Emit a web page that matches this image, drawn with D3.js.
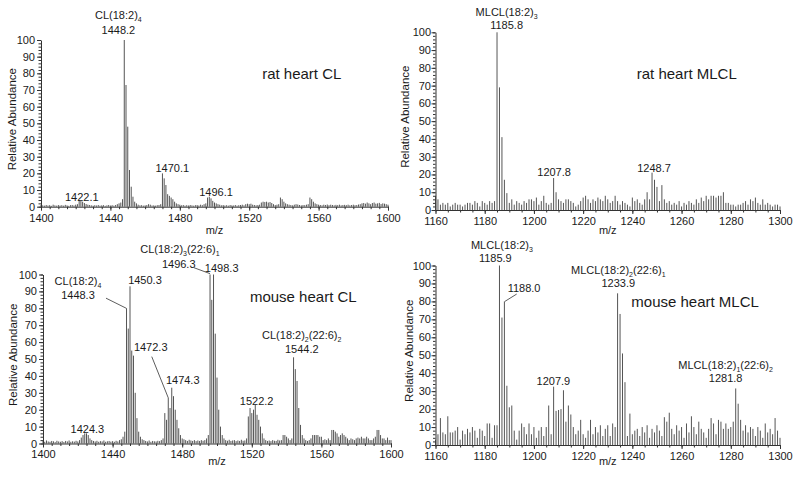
<!DOCTYPE html>
<html><head><meta charset="utf-8">
<script src="https://cdn.jsdelivr.net/npm/d3@7"></script>
<style>
body{margin:0;background:#fff;}
svg{display:block;font-family:"Liberation Sans",Arial,sans-serif;}
</style></head><body>
<svg id="c" width="800" height="478"></svg>
<script>
// ---------- data ----------
const clMz = d3.range(1400, 1601);      // m/z bins, CL panels
const mlclMz = d3.range(1160, 1301);    // m/z bins, MLCL panels
const clTicks = [1400, 1440, 1480, 1520, 1560, 1600];
const mlclTicks = [1160, 1180, 1200, 1220, 1240, 1260, 1280, 1300];
const yTicks = [0, 10, 20, 30, 40, 50, 60, 70, 80, 90, 100];

const ratCL = [
 1.0,0.8,0.6,1.0,0.7,0.9,0.5,1.2,0.8,0.6,
 1.0,0.7,0.9,0.6,1.1,0.8,0.5,0.9,1.0,0.7,
 1.2,1.5,4.0,3.5,3.0,2.2,1.6,1.2,1.0,0.8,
 0.6,0.9,0.7,1.0,0.6,0.8,0.9,0.5,0.8,1.0,
 0.7,0.9,0.6,1.0,1.5,2.0,2.5,4.5,100,73,
 48,22,12,6,3,2,1.2,0.8,0.9,0.6,
 0.8,1.0,1.5,1.2,0.7,0.8,0.6,0.9,1.0,1.5,
 20,17,13,7.5,6.5,5.5,4.5,3,2,1.5,
 1.2,0.8,1.0,0.6,0.9,0.7,1.0,0.8,0.6,0.9,
 1.0,0.7,1.2,0.9,1.5,2.0,5.5,6.0,5.0,3.5,
 2.5,2.0,1.5,1.2,0.8,1.0,0.7,0.9,0.6,1.0,
 0.8,0.7,1.0,0.6,0.9,1.0,1.2,0.8,1.5,1.8,
 1.5,1.8,1.2,1.0,0.8,1.0,1.2,2.5,3.0,2.8,
 3.0,2.5,2.8,2.2,1.5,1.0,1.2,1.5,5.5,4.5,
 3.0,2.0,1.5,1.2,1.0,0.8,1.2,1.5,1.3,1.0,
 0.8,1.0,0.9,1.2,1.5,5.5,4.5,3.0,2.0,1.5,
 1.2,1.0,0.8,1.2,1.0,1.3,0.9,1.2,1.0,0.8,
 1.1,0.9,1.2,0.8,1.0,1.1,0.9,1.2,0.8,1.0,
 1.2,0.9,1.0,1.3,1.5,2.0,2.2,1.8,2.5,2.0,
 1.5,2.2,2.5,1.8,2.0,2.3,1.6,2.0,1.8,1.5,
 1.2];

const mouseCL = [
 1.5,1.0,1.8,1.2,1.0,1.5,1.3,0.8,1.6,1.2,
 1.0,1.4,0.9,1.5,1.2,1.8,1.0,1.3,1.1,1.6,
 1.2,2.0,3.5,5.0,6.0,6.0,5.0,3.0,2.0,1.5,
 1.2,1.6,1.0,1.4,1.2,1.8,1.0,1.3,1.5,1.1,
 1.4,1.0,1.6,1.2,2.0,2.5,4.0,7.0,80,68,
 93,55,52,30,15,7,4,2.5,2.0,1.5,
 1.2,1.8,1.0,1.5,1.3,1.2,1.6,1.4,2.0,3.0,
 18,14,27,21,33,28,20,14,9,5,
 3.0,2.5,2.0,1.5,2.2,1.8,1.5,2.0,1.4,1.8,
 1.5,2.0,1.6,2.0,3.0,5.0,100,85,100,65,
 39,20,10,5,3,2,1.6,2.2,1.5,1.8,
 2.0,1.4,1.8,1.5,2.2,1.6,1.8,3.0,16,21,
 18,20,23,17,14,10,6,3,2,1.5,
 1.8,1.4,2.0,1.6,1.5,2.2,1.8,2.0,5.0,5.0,
 4.0,3.0,2.0,3.0,51,44,37,21,11,5,
 3.0,2.0,1.5,2.0,3.0,5.0,5.0,5.0,5.0,4.0,
 4.0,2.0,2.5,2.0,3.0,2.0,8.0,8.0,7.0,6.0,
 4.0,5.0,6.0,5.0,4.0,3.0,2.0,3.0,2.5,2.0,
 3.0,3.5,3.0,4.0,3.0,3.0,4.0,3.0,2.0,2.0,
 3.0,4.0,8.0,8.0,5.0,3.0,3.0,2.0,3.5,2.0,
 2.0];

const ratMLCL = [
 8,6,3,4,3,4,2,3,4,3,
 3,2,3,4,4,3,5,4,2,5,
 4,3,5,4,5,100,69,41,17,9.5,
 4,6,3,5,4,3,5,4,6,6,
 5,7,3,5,8,4,3,4,18,10,
 6,5,4,6,6,5,4,2,3,5,
 7,8,6,4,6,5,7,6,5,8,
 6,4,5,8,5,3,5,4,3,2,
 7,5,6,4,3,6,10,6,21,17,
 13,5,14,6,4,5,3,4,3,5,
 2,4,3,5,4,3,6,4,7,5,
 8,6,8,8,7,8,8,10,4,4,
 3,3,2,3,3,4,5,3,6,5,
 7,4,3,6,3,4,3,2,3,3,
 2];

const mouseMLCL = [
 3,6,15,7,6,16,7,7,8,10,
 3,8,6,9,7,10,8,4,9,8,
 5,12,12,4,11,11,100,71,80,33,
 21,22,8,3,8,12,10,6,12,6,
 10,4,8,10,5,10,22,6,32.5,19,
 19.5,20,30.5,13,22,17,10,6,8,14,
 6,4,8,14,6,10,7,11,5,9,
 11,5,12,10,84.5,73,51,35,5,17.5,
 6,8,9,5,10,7,11,4,9,7,
 11,8,5,15.5,13,18,9,6,11,8,
 10,4,12,7,16,10,6,13,9,7,
 4,9,15,12,6,14,13,9,12,9,
 10,13,31.5,23,14,8,11,7,10,9,
 5,10,8,4,12,7,9,6,15,8,
 4];

// annotations: text centre in data units (m/z, relative abundance); "_n" = subscript
const ratCLNotes = [
  {mz: 1444.6, v: 115, lines: ["CL(18:2)_4", "1448.2"], gap: 15},
  {mz: 1475.7, v: 23, lines: ["1470.1"]},
  {mz: 1500.9, v: 8.8, lines: ["1496.1"]},
  {mz: 1423.5, v: 6, lines: ["1422.1"]}
];
const ratMLCLNotes = [
  {mz: 1188.9, v: 111.6, lines: ["MLCL(18:2)_3", "1185.8"]},
  {mz: 1208.2, v: 21.2, lines: ["1207.8"]},
  {mz: 1248.8, v: 23.5, lines: ["1248.7"]}
];
const mouseCLNotes = [
  {mz: 1420.1, v: 96, lines: ["CL(18:2)_4", "1448.3"]},
  {mz: 1458.6, v: 96.7, lines: ["1450.3"]},
  {mz: 1478.7, v: 115, lines: ["CL(18:2)_3(22:6)_1"]},
  {mz: 1478.0, v: 106.3, lines: ["1496.3"]},
  {mz: 1502.7, v: 103.7, lines: ["1498.3"]},
  {mz: 1461.9, v: 57.3, lines: ["1472.3"]},
  {mz: 1480.3, v: 37.6, lines: ["1474.3"]},
  {mz: 1522.8, v: 25.1, lines: ["1522.2"]},
  {mz: 1548.7, v: 64.2, lines: ["CL(18:2)_2(22:6)_2", "1544.2"]},
  {mz: 1425.5, v: 8.4, lines: ["1424.3"]}
];
const mouseCLLeaders = [
  {from: [1436.2, 86], to: [1447.9, 80]},
  {from: [1486.8, 104], to: [1496, 100.5]},
  {from: [1462.5, 51.4], to: [1472, 27]}
];
const mouseMLCLNotes = [
  {mz: 1187.0, v: 111.4, lines: ["MLCL(18:2)_3"]},
  {mz: 1184.3, v: 104, lines: ["1185.9"]},
  {mz: 1196.0, v: 87.3, lines: ["1188.0"]},
  {mz: 1234.3, v: 97.5, lines: ["MLCL(18:2)_2(22:6)_1", "1233.9"]},
  {mz: 1207.9, v: 35.8, lines: ["1207.9"]},
  {mz: 1277.9, v: 44.6, lines: ["MLCL(18:2)_1(22:6)_2", "1281.8"]}
];
const mouseMLCLLeaders = [
  {from: [1193, 84.1], to: [1188.2, 80]}
];

// ---------- drawing ----------
const svg = d3.select("#c");
const TXT = "#1a1a1a";

function addRich(sel, str) {
  const parts = str.split(/_(\d)/);
  parts.forEach((p, i) => {
    if (!p) return;
    if (i % 2 === 1) {
      sel.append("tspan").attr("font-size", 7).attr("dy", 3).text(p);
    } else {
      sel.append("tspan").attr("dy", i > 0 ? -3 : 0).text(p);
    }
  });
}

function panel(c) {
  const x = d3.scaleLinear().domain(c.domain).range([c.left, c.right]);
  const y = d3.scaleLinear().domain([0, 100]).range([c.bottom, c.top]);
  const g = svg.append("g");

  // sticks
  g.append("g").selectAll("line")
    .data(c.mz.map((m, i) => [m, c.vals[i]]))
    .join("line")
    .attr("x1", d => x(d[0])).attr("x2", d => x(d[0]))
    .attr("y1", y(0)).attr("y2", d => y(d[1]))
    .attr("stroke", "#555").attr("stroke-width", 1);

  // y axis
  const ya = g.append("g").attr("transform", `translate(${c.left},0)`)
    .call(d3.axisLeft(y).tickValues(yTicks).tickSize(4).tickPadding(c.ypad).tickSizeOuter(0));
  g.append("g").attr("transform", `translate(${c.left},0)`)
    .call(d3.axisLeft(y).tickValues(d3.range(0, 101, 2)).tickSize(2.5).tickFormat("").tickSizeOuter(0))
    .select(".domain").remove();
  // x axis
  const xa = g.append("g").attr("transform", `translate(0,${c.bottom})`)
    .call(d3.axisBottom(x).tickValues(c.ticks).tickFormat(d3.format("d"))
      .tickSize(4).tickPadding(c.xpad).tickSizeOuter(0));
  g.append("g").attr("transform", `translate(0,${c.bottom})`)
    .call(d3.axisBottom(x).tickValues(d3.range(c.domain[0], c.domain[1] + 1, 5)).tickSize(2.5).tickFormat("").tickSizeOuter(0))
    .select(".domain").remove();

  g.selectAll(".tick line, .domain").attr("stroke", "#333");
  [ya, xa].forEach(a => a.selectAll("text").attr("font-size", 11)
    .attr("font-family", "Liberation Sans, Arial, sans-serif").attr("fill", TXT));

  // axis titles
  g.append("text")
    .attr("transform", `translate(${c.left - c.ylabOff},${y(52.5)}) rotate(-90)`)
    .attr("text-anchor", "middle").attr("dy", "0.36em")
    .attr("font-size", 11.5).attr("fill", TXT).text("Relative Abundance");
  g.append("text")
    .attr("x", x((c.domain[0] + c.domain[1]) / 2)).attr("y", c.bottom + c.mzOff)
    .attr("text-anchor", "middle").attr("dy", "0.36em")
    .attr("font-size", 11).attr("fill", TXT).text("m/z");

  // panel title
  g.append("text")
    .attr("x", x(c.title.mz)).attr("y", y(c.title.v)).attr("dy", "0.36em")
    .attr("text-anchor", "middle").attr("font-size", 15).attr("fill", TXT)
    .text(c.title.text);

  // leaders
  (c.leaders || []).forEach(l => {
    g.append("line")
      .attr("x1", x(l.from[0])).attr("y1", y(l.from[1]))
      .attr("x2", x(l.to[0])).attr("y2", y(l.to[1]))
      .attr("stroke", "#333").attr("stroke-width", 0.8);
  });

  // annotations
  c.notes.forEach(n => {
    const gap = n.gap || 13.5;
    n.lines.forEach((ln, k) => {
      const t = g.append("text")
        .attr("x", x(n.mz)).attr("y", y(n.v) + k * gap + 4)
        .attr("text-anchor", "middle").attr("font-size", 11).attr("fill", TXT);
      addRich(t, ln);
    });
  });
}

panel({domain: [1400, 1600], ticks: clTicks, mz: clMz, vals: ratCL,
  left: 41, right: 388, top: 40, bottom: 206.7, ypad: 2, xpad: 4, ylabOff: 29.5, mzOff: 23.3,
  title: {text: "rat heart CL", mz: 1550.3, v: 80}, notes: ratCLNotes});
panel({domain: [1160, 1300], ticks: mlclTicks, mz: mlclMz, vals: ratMLCL,
  left: 435.5, right: 780, top: 32.3, bottom: 210, ypad: 0.5, xpad: 3, ylabOff: 30.5, mzOff: 20.5,
  title: {text: "rat heart MLCL", mz: 1262.1, v: 77}, notes: ratMLCLNotes});
panel({domain: [1400, 1600], ticks: clTicks, mz: clMz, vals: mouseCL,
  left: 43, right: 391, top: 274.5, bottom: 443.5, ypad: 2, xpad: 3, ylabOff: 30, mzOff: 17.5,
  title: {text: "mouse heart CL", mz: 1549.6, v: 86.9}, notes: mouseCLNotes, leaders: mouseCLLeaders});
panel({domain: [1160, 1300], ticks: mlclTicks, mz: mlclMz, vals: mouseMLCL,
  left: 435.5, right: 780, top: 265.5, bottom: 445, ypad: 0.5, xpad: 3, ylabOff: 26.5, mzOff: 16.5,
  title: {text: "mouse heart MLCL", mz: 1265.5, v: 79.8}, notes: mouseMLCLNotes, leaders: mouseMLCLLeaders});
</script>
</body></html>
